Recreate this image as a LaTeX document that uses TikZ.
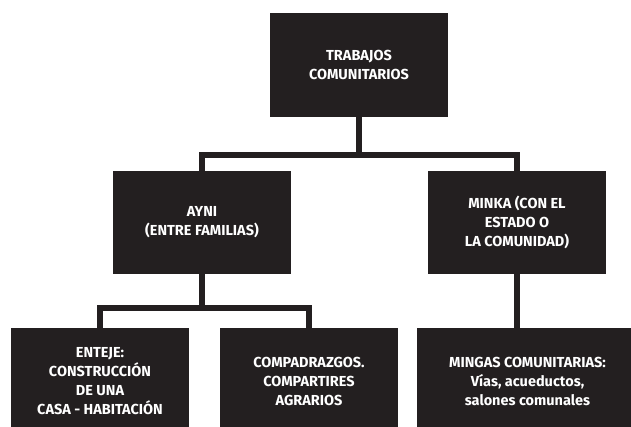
\documentclass[tikz,border=0pt]{standalone}
\usepackage{fontspec}
\setmainfont{Fira Sans}
\usepackage{tikz}

\definecolor{boxblack}{HTML}{231F20}

\begin{document}
\begin{tikzpicture}[
            x=1pt, y=-1pt,
            box/.style={fill=boxblack, text=white, inner sep=0pt, align=center,
                minimum width=178pt, font=\bfseries\fontsize{14.5}{19}\selectfont},
            link/.style={draw=boxblack, line width=6pt, line join=miter}
        ]
            \useasboundingbox (0, 0) rectangle (631, 427);
            \clip (0, 0) rectangle (631, 427);

            % top level
            \node[box, minimum height=104pt] (trabajos) at (359, 65) {TRABAJOS\\COMUNITARIOS};

            % second level
            \node[box, minimum height=103pt] (ayni) at (202, 222.5) {AYNI\\(ENTRE FAMILIAS)};
            \node[box, minimum height=103pt] (minka) at (517, 222.5) {MINKA (CON EL\\ESTADO O\\LA COMUNIDAD)};

            % third level
            \node[box, minimum height=106pt] (enteje) at (100, 381) {ENTEJE:\\CONSTRUCCIÓN\\DE UNA\\CASA - HABITACIÓN};
            \node[box, minimum height=106pt] (compadrazgos) at (309, 381) {COMPADRAZGOS.\\COMPARTIRES\\AGRARIOS};
            \node[box, minimum height=106pt, minimum width=221pt] (mingas) at (527.5, 381) {MINGAS COMUNITARIAS:\\Vías, acueductos,\\salones comunales};

            \coordinate (top bar) at (359, 155);
            \coordinate (ayni bar) at (202, 308);

            \draw[link] (trabajos.south) -- (top bar);
            \draw[link] (ayni.north) |- (top bar) -| (minka.north);
            \draw[link] (ayni.south) -- (ayni bar);
            \draw[link] (enteje.north) |- (ayni bar) -| (compadrazgos.north);
            \draw[link] (minka.south) -- (minka.south |- mingas.north);
        \end{tikzpicture}
\end{document}
